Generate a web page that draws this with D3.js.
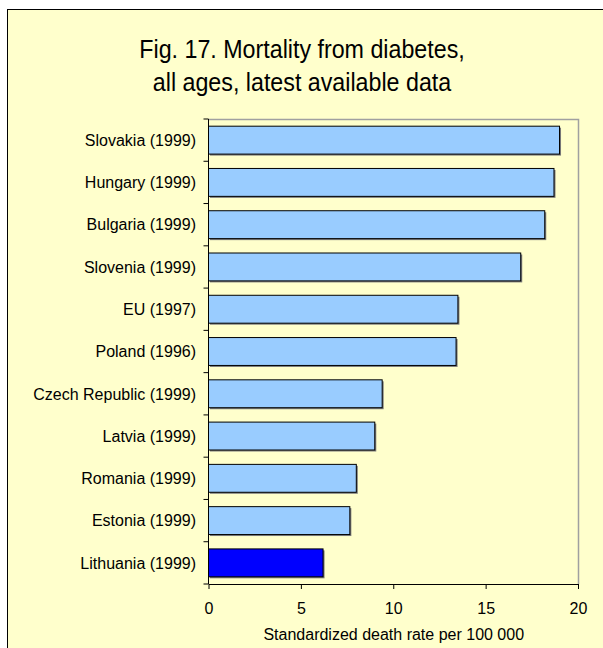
<!DOCTYPE html>
<html>
<head>
<meta charset="utf-8">
<script src="https://cdn.jsdelivr.net/npm/d3@7"></script>
<style>
  body { margin: 0; background: #fff; }
  text { font-family: "Liberation Sans", Arial, sans-serif; fill: #000; }
</style>
</head>
<body>
<div class="canvas"></div>
<script>
const categories = [
	"Slovakia (1999)",
	"Hungary (1999)",
	"Bulgaria (1999)",
	"Slovenia (1999)",
	"EU (1997)",
	"Poland (1996)",
	"Czech Republic (1999)",
	"Latvia (1999)",
	"Romania (1999)",
	"Estonia (1999)",
	"Lithuania (1999)",
];
const values = [19.0, 18.7, 18.2, 16.9, 13.5, 13.4, 9.4, 9.0, 8.0, 7.65, 6.2];
const highlight = "Lithuania (1999)";
const xTicks = [0, 5, 10, 15, 20];
const titleLines = ["Fig. 17. Mortality from diabetes,", "all ages, latest available data"];
const xTitle = "Standardized death rate per 100 000";

const dims = { width: 603, height: 648 };
const plot = { left: 208.5, right: 578, top: 119, bottom: 584 };

const svg = d3
	.select(".canvas")
	.append("svg")
	.attr("width", dims.width)
	.attr("height", dims.height);

// chart background + frame
svg.append("rect")
	.attr("x", 7.5)
	.attr("y", 9.5)
	.attr("width", dims.width)
	.attr("height", dims.height)
	.attr("fill", "#ffffcc")
	.attr("stroke", "#000")
	.attr("stroke-width", 1);

// title, a bit narrower than the font's natural width
const titleG = svg
	.append("g")
	.attr("transform", "translate(302, 0) scale(0.93, 1)");
titleG.selectAll("text")
	.data(titleLines)
	.enter()
	.append("text")
	.attr("x", 0)
	.attr("y", (d, i) => 58 + i * 33)
	.attr("text-anchor", "middle")
	.attr("font-size", 25)
	.text((d) => d);

const x = d3.scaleLinear().domain([0, 20]).range([plot.left, plot.right]);
const y = d3
	.scaleBand()
	.domain(categories)
	.range([plot.top, plot.bottom])
	.paddingInner(0.34)
	.paddingOuter(0.17);

// plot area border (top and right, grey)
svg.append("path")
	.attr("d", `M${plot.left},${plot.top + 0.5}H${plot.right + 0.5}V${plot.bottom}`)
	.attr("fill", "none")
	.attr("stroke", "#a0a0a0")
	.attr("stroke-width", 1.5);

const data = categories.map((c, i) => ({ name: c, value: values[i] }));

// shadows
svg.append("g")
	.selectAll("rect")
	.data(data)
	.enter()
	.append("rect")
	.attr("x", x(0) + 1.5)
	.attr("y", (d) => y(d.name) + 1.5)
	.attr("width", (d) => x(d.value) - x(0))
	.attr("height", y.bandwidth())
	.attr("fill", "#7a7a7a");

svg.append("g")
	.selectAll("rect")
	.data(data)
	.enter()
	.append("rect")
	.attr("x", x(0))
	.attr("y", (d) => y(d.name))
	.attr("width", (d) => x(d.value) - x(0))
	.attr("height", y.bandwidth())
	.attr("fill", (d) => (d.name === highlight ? "#0000ff" : "#99ccff"))
	.attr("stroke", "#000")
	.attr("stroke-width", 1);

// y axis: line + ticks at band boundaries
const yAxis = svg.append("g");
yAxis.append("line")
	.attr("x1", plot.left)
	.attr("x2", plot.left)
	.attr("y1", plot.top)
	.attr("y2", plot.bottom)
	.attr("stroke", "#000");
const step = y.step();
yAxis.selectAll("line.tick")
	.data(d3.range(categories.length + 1))
	.enter()
	.append("line")
	.attr("class", "tick")
	.attr("x1", plot.left - 5)
	.attr("x2", plot.left)
	.attr("y1", (i) => plot.top + i * step)
	.attr("y2", (i) => plot.top + i * step)
	.attr("stroke", "#000");
yAxis.selectAll("text")
	.data(categories)
	.enter()
	.append("text")
	.attr("x", 196)
	.attr("y", (d) => y(d) + y.bandwidth() / 2)
	.attr("dy", "0.36em")
	.attr("text-anchor", "end")
	.attr("font-size", 16)
	.text((d) => d);

// x axis
const xAxis = svg
	.append("g")
	.attr("transform", `translate(0, ${plot.bottom})`)
	.call(d3.axisBottom(x).tickValues(xTicks).tickSize(5).tickPadding(14).tickSizeOuter(0));
xAxis.select(".domain").attr("stroke", "#000");
xAxis.selectAll("text")
	.attr("font-size", 16)
	.attr("font-family", "Liberation Sans, Arial, sans-serif");

svg.append("text")
	.attr("x", (plot.left + plot.right) / 2 + 0.5)
	.attr("y", 639.5)
	.attr("text-anchor", "middle")
	.attr("font-size", 16)
	.text(xTitle);
</script>
</body>
</html>
